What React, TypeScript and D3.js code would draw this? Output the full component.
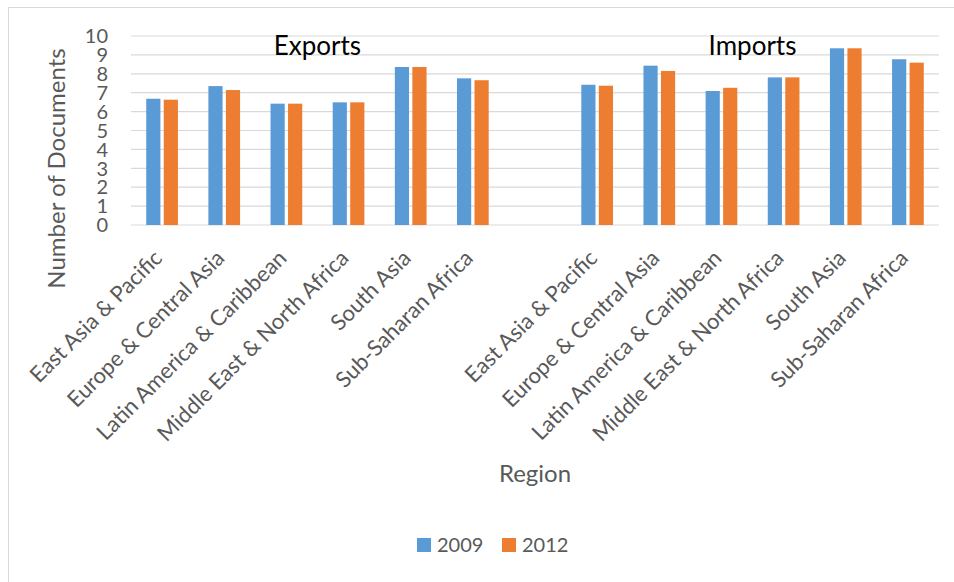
import React from "react";
import * as d3 from "d3";

const regions = [
  "East Asia & Pacific",
  "Europe & Central Asia",
  "Latin America & Caribbean",
  "Middle East & North Africa",
  "South Asia",
  "Sub-Saharan Africa",
];
const seriesNames = ["2009", "2012"];
const seriesColors = ["#5B9BD5", "#ED7D31"];
const exports2009 = [6.68, 7.35, 6.42, 6.49, 8.36, 7.76];
const exports2012 = [6.63, 7.14, 6.42, 6.49, 8.36, 7.66];
const imports2009 = [7.42, 8.43, 7.09, 7.81, 9.35, 8.77];
const imports2012 = [7.37, 8.15, 7.26, 7.81, 9.35, 8.59];
const groupTitles = ["Exports", "Imports"];
const yTicks = [0, 1, 2, 3, 4, 5, 6, 7, 8, 9, 10];

const W = 954;
const H = 582;
const FONT = "Lato, 'Open Sans', sans-serif";

type Slot = { key: string; label: string; vals: number[] | null; group: number };

export default function App() {
  const slots: Slot[] = [];
  regions.forEach((r, i) =>
    slots.push({ key: "e" + i, label: r, vals: [exports2009[i], exports2012[i]], group: 0 })
  );
  slots.push({ key: "gap", label: "", vals: null, group: -1 });
  regions.forEach((r, i) =>
    slots.push({ key: "i" + i, label: r, vals: [imports2009[i], imports2012[i]], group: 1 })
  );

  const left = 131;
  const right = 939;
  const top = 36;
  const bottom = 225;

  const x0 = d3
    .scaleBand<string>()
    .domain(slots.map((s) => s.key))
    .range([left, right])
    .paddingInner(0.49)
    .paddingOuter(0.245);
  const x1 = d3
    .scaleBand<string>()
    .domain(seriesNames)
    .range([0, x0.bandwidth()])
    .paddingInner(0.19);
  const y = d3.scaleLinear().domain([0, 10]).range([bottom, top]);

  const center = (k: string) => (x0(k) as number) + x0.bandwidth() / 2;

  const groupCenter = (g: number) => {
    const ks = slots.filter((s) => s.group === g).map((s) => center(s.key));
    return (ks[0] + ks[ks.length - 1]) / 2;
  };

  return (
    <svg width={W} height={H} style={{ position: "absolute", left: 0, top: 0 }} fontFamily={FONT}>
      <rect x={0} y={0} width={W} height={H} fill="#fff" />
      <rect x={8.5} y={7.5} width={1000} height={1000} fill="none" stroke="#D9D9D9" strokeWidth={1} />
      {yTicks.map((t) => (
        <g key={t}>
          <line x1={left} x2={right} y1={y(t)} y2={y(t)} stroke="#D9D9D9" strokeWidth={1.2} />
          <text
            x={108}
            y={y(t)}
            dy="0.36em"
            textAnchor="end"
            fontSize={20}
            fill="#595959"
          >
            {t}
          </text>
        </g>
      ))}
      {slots
        .filter((s) => s.vals)
        .map((s) =>
          (s.vals as number[]).map((v, j) => (
            <rect
              key={s.key + j}
              x={(x0(s.key) as number) + (x1(seriesNames[j]) as number)}
              y={y(v)}
              width={x1.bandwidth()}
              height={y(0) - y(v)}
              fill={seriesColors[j]}
            />
          ))
        )}
      {groupTitles.map((g, i) => (
        <text key={g} x={groupCenter(i)} y={55} textAnchor="middle" fontSize={26} fill="#000">
          {g}
        </text>
      ))}
      {slots
        .filter((s) => s.vals)
        .map((s) => {
          const cx = center(s.key) - 4;
          const cy = 254;
          return (
            <text
              key={"l" + s.key}
              transform={`translate(${cx},${cy}) rotate(-45)`}
              textAnchor="end"
              dy="0.35em"
              fontSize={22}
              fill="#595959"
            >
              {s.label}
            </text>
          );
        })}
      <text
        transform={`translate(65,${(top + bottom) / 2 + 38}) rotate(-90)`}
        textAnchor="middle"
        fontSize={24}
        fill="#595959"
      >
        Number of Documents
      </text>
      <text x={(left + right) / 2} y={482} textAnchor="middle" fontSize={24} fill="#595959">
        Region
      </text>
      {seriesNames.map((n, i) => (
        <g key={n} transform={`translate(${417 + i * 85},538)`}>
          <rect x={0} y={0} width={14} height={14} fill={seriesColors[i]} />
          <text x={20} y={7} dy="0.36em" fontSize={20} fill="#595959">
            {n}
          </text>
        </g>
      ))}
    </svg>
  );
}
